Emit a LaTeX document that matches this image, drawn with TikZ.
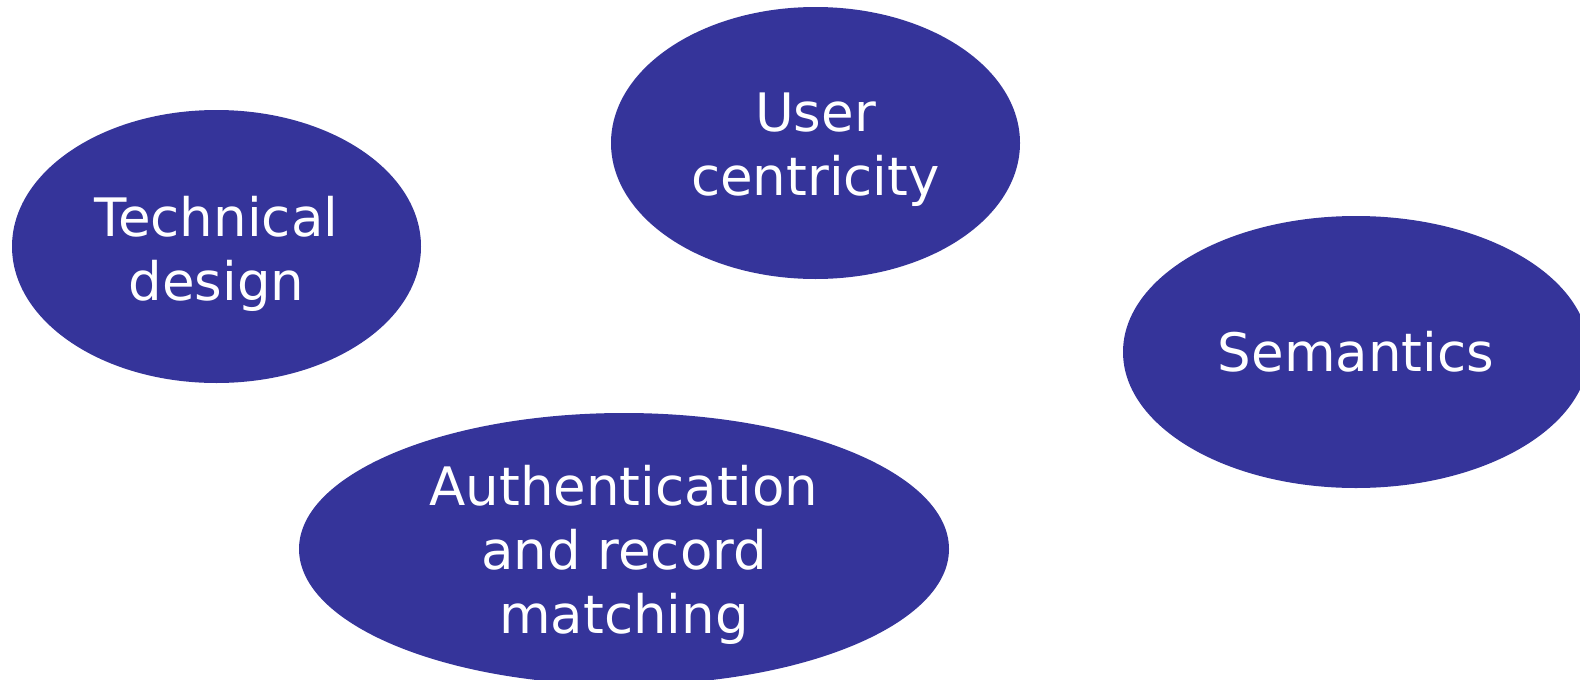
\documentclass[tikz,border=0pt]{standalone}
\usepackage{fontspec}
\setmainfont{DejaVu Sans}
\usetikzlibrary{shapes.geometric}
\definecolor{blobblue}{RGB}{53,52,154}
\begin{document}
\begin{tikzpicture}[x=1pt,y=-1pt,
  blob/.style={ellipse, fill=blobblue, draw=none, inner sep=0pt},
  lbl/.style={text=white, align=center, font=\fontsize{53}{64}\selectfont, inner sep=0pt}]
\useasboundingbox (0,0) rectangle (1580,680);
\clip (0,0) rectangle (1580,680);
\node[blob, minimum width=409pt, minimum height=273pt] (tech) at (216.5,246.5) {};
\node[blob, minimum width=409pt, minimum height=272pt] (user) at (815.5,143) {};
\node[blob, minimum width=466pt, minimum height=272pt] (sem) at (1356,352) {};
\node[blob, minimum width=650pt, minimum height=272pt] (auth) at (624,549) {};
\node[lbl] (techtext) at ([yshift=-7pt]tech.center) {Technical\\design};
\node[lbl] (usertext) at ([yshift=-7pt]user.center) {User\\centricity};
\node[lbl] (semtext) at (sem.center) {Semantics};
\node[lbl] (authtext) at ([yshift=-6pt]auth.center) {Authentication\\and record\\matching};
\end{tikzpicture}
\end{document}
